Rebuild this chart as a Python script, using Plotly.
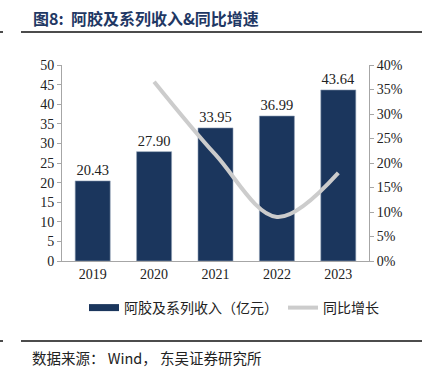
import plotly.graph_objects as go

years = ["2019", "2020", "2021", "2022", "2023"]
revenue = [20.43, 27.90, 33.95, 36.99, 43.64]
growth = [None, 36.6, 21.7, 9.0, 18.0]
revenue_labels = ["20.43", "27.90", "33.95", "36.99", "43.64"]
left_ticks = [0, 5, 10, 15, 20, 25, 30, 35, 40, 45, 50]
right_ticks = [0, 5, 10, 15, 20, 25, 30, 35, 40]
right_tick_text = [f"{v}%" for v in right_ticks]

title_text = "图8:  阿胶及系列收入&同比增速"
source_text = "数据来源： Wind， 东吴证券研究所"
bar_name = "阿胶及系列收入（亿元）"
line_name = "同比增长"

SERIF = "Liberation Serif"
CJK = "Noto Sans CJK SC"
BAR_COLOR = "#1B365D"
LINE_COLOR = "#CCCCCC"

W, H = 422, 379
L, R, T, B = 62, 53, 65, 118
pw, ph = W - L - R, H - T - B

def px_x(x):
    return (x - L) / pw

def px_y(y):
    return (H - B - y) / ph

fig = go.Figure()
fig.add_trace(go.Bar(
    x=years, y=revenue, name=bar_name, width=0.57,
    marker=dict(color=BAR_COLOR, line=dict(color="#8FA0B5", width=0.6)),
    text=revenue_labels, textposition="outside",
    textfont=dict(family=SERIF, size=14.5, color="#222222"),
    cliponaxis=False, showlegend=False,
))
fig.add_trace(go.Scatter(
    x=years, y=growth, name=line_name, yaxis="y2", mode="lines",
    line=dict(color=LINE_COLOR, width=4, shape="spline", smoothing=1.0),
    showlegend=False,
))
# legend proxies
fig.add_trace(go.Scatter(
    x=[None], y=[None], name=bar_name, mode="lines",
    line=dict(color=BAR_COLOR, width=7),
))
fig.add_trace(go.Scatter(
    x=[None], y=[None], name=line_name, mode="lines", yaxis="y2",
    line=dict(color=LINE_COLOR, width=4),
))

tickfont = dict(family=SERIF, size=14, color="#222222")
fig.update_layout(
    width=W, height=H,
    margin=dict(l=L, r=R, t=T, b=B),
    paper_bgcolor="white", plot_bgcolor="white",
    font=dict(family=SERIF, size=14, color="#222222"),
    xaxis=dict(
        type="category", showgrid=False, ticks="", showline=True,
        linecolor="#A6A6A6", linewidth=1, tickfont=tickfont,
    ),
    yaxis=dict(
        range=[0, 50], tickvals=left_ticks, showgrid=False, zeroline=False,
        showline=True, linecolor="#A6A6A6", linewidth=1,
        ticks="outside", ticklen=4, tickcolor="#A6A6A6", tickfont=tickfont,
    ),
    yaxis2=dict(
        range=[0, 40], tickvals=right_ticks, ticktext=right_tick_text,
        overlaying="y", side="right", showgrid=False, zeroline=False,
        showline=True, linecolor="#A6A6A6", linewidth=1,
        ticks="outside", ticklen=4, tickcolor="#A6A6A6", tickfont=tickfont,
    ),
    legend=dict(
        orientation="h", x=px_x(234), xanchor="center", y=px_y(308), yanchor="middle",
        font=dict(family=CJK, size=14, color="#222222"),
        itemwidth=30, tracegroupgap=0,
    ),
    showlegend=True,
)

fig.add_annotation(
    x=px_x(31), y=px_y(18), xref="paper", yref="paper",
    xanchor="left", yanchor="middle", showarrow=False,
    text=f"<b>{title_text}</b>",
    font=dict(family=CJK, size=16, color="#1F3864"),
)
fig.add_annotation(
    x=px_x(30), y=px_y(357), xref="paper", yref="paper",
    xanchor="left", yanchor="middle", showarrow=False,
    text=source_text,
    font=dict(family=CJK, size=14.5, color="#222222"),
)
for y in (32, 341):
    fig.add_shape(type="line", xref="paper", yref="paper",
                  x0=px_x(21), x1=px_x(422), y0=px_y(y), y1=px_y(y),
                  line=dict(color="#111111", width=1.5))
    fig.add_shape(type="line", xref="paper", yref="paper",
                  x0=px_x(0), x1=px_x(3), y0=px_y(y), y1=px_y(y),
                  line=dict(color="#111111", width=1.5))

fig.write_html(
    "out.html",
    config={"displayModeBar": False},
    post_script="document.body.style.margin='0';document.body.style.overflow='hidden';",
)
